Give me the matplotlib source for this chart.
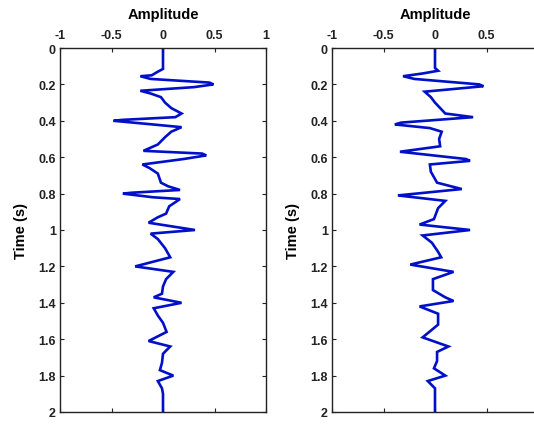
import matplotlib
matplotlib.use("Agg")
import matplotlib.pyplot as plt

# Left trace: time (s) and amplitude
t_left = [0.0, 0.115, 0.13, 0.15, 0.155, 0.17, 0.19, 0.2, 0.215, 0.235, 0.25, 0.27, 0.3, 0.33,
          0.36, 0.38, 0.395, 0.40, 0.42, 0.435, 0.46, 0.49, 0.53, 0.565, 0.58, 0.59, 0.61, 0.64, 0.66,
          0.69, 0.74, 0.76, 0.78, 0.795, 0.80, 0.82, 0.83, 0.87, 0.91, 0.93, 0.96, 1.0, 1.02,
          1.05, 1.1, 1.15, 1.2, 1.23, 1.27, 1.31, 1.35, 1.37, 1.40, 1.43, 1.47, 1.51,
          1.56, 1.61, 1.64, 1.68, 1.73, 1.77, 1.80, 1.83, 1.87, 1.9, 2.0]
a_left = [0.0, 0.0, -0.05, -0.11, -0.22, -0.12, 0.45, 0.49, 0.3, -0.22, -0.12, -0.02, 0.02, 0.08,
          0.18, 0.12, -0.4, -0.48, -0.1, 0.18, 0.08, 0.02, -0.05, -0.19, 0.38, 0.42, 0.2, -0.2, -0.13,
          -0.05, -0.02, 0.05, 0.165, -0.3, -0.39, -0.1, 0.165, 0.06, 0.03, -0.05, -0.14, 0.31, -0.12,
          -0.05, 0.02, 0.07, -0.27, 0.1, 0.03, 0.0, -0.01, -0.09, 0.18, -0.09, -0.05, 0.0,
          0.035, -0.14, 0.07, 0.0, -0.01, -0.03, 0.1, -0.05, -0.01, 0.0, 0.0]

# Right trace: time (s) and amplitude
t_right = [0.0, 0.11, 0.125, 0.14, 0.155, 0.17, 0.2, 0.21, 0.24, 0.27, 0.3, 0.33, 0.36, 0.38,
           0.41, 0.42, 0.44, 0.46, 0.5, 0.54, 0.57, 0.61, 0.62, 0.64, 0.68, 0.74, 0.775, 0.81, 0.84,
           0.88, 0.94, 0.97, 1.0, 1.03, 1.07, 1.12, 1.15, 1.19, 1.23, 1.27, 1.33, 1.37,
           1.39, 1.42, 1.46, 1.52, 1.59, 1.64, 1.67, 1.72, 1.76, 1.80, 1.83, 1.87, 2.0]
a_right = [0.0, 0.0, 0.03, -0.12, -0.31, -0.2, 0.43, 0.47, -0.1, -0.04, 0.0, 0.05, 0.1, 0.37,
           -0.33, -0.39, -0.05, 0.065, 0.04, 0.05, -0.34, 0.3, 0.34, -0.05, -0.04, 0.02, 0.26, -0.36, 0.1,
           0.03, -0.01, -0.15, 0.34, -0.12, -0.03, 0.03, 0.06, -0.24, 0.18, -0.02, -0.02, 0.1,
           0.18, -0.15, 0.03, 0.03, -0.12, 0.13, 0.02, 0.02, -0.01, 0.1, -0.07, 0.0, 0.0]

x_ticks = [-1, -0.5, 0, 0.5, 1]
x_labels = ["-1", "-0.5", "0", "0.5", "1"]
y_ticks = [0, 0.2, 0.4, 0.6, 0.8, 1, 1.2, 1.4, 1.6, 1.8, 2]
y_labels = ["0", "0.2", "0.4", "0.6", "0.8", "1", "1.2", "1.4", "1.6", "1.8", "2"]

plt.rcParams['font.family'] = ['Liberation Sans', 'DejaVu Sans']
plt.rcParams['font.weight'] = 'bold'

fig = plt.figure(figsize=(5.34, 4.27), dpi=100)
W, H = 534, 427
line_color = '#0010c8'

def make_ax(x0_px, t, a, show_last_xlabel=True):
    ax = fig.add_axes([x0_px / W, 1 - 413 / H, 206 / W, (413 - 49) / H])
    ax.plot(a, t, color=line_color, lw=1.9, solid_joinstyle='miter')
    ax.set_xlim(-1, 1)
    ax.set_ylim(2, 0)
    ax.set_xticks(x_ticks)
    ax.set_xticklabels(x_labels, fontsize=9, fontweight='bold')
    ax.set_yticks(y_ticks)
    ax.set_yticklabels(y_labels, fontsize=9, fontweight='bold')
    ax.xaxis.set_ticks_position('both')
    ax.yaxis.set_ticks_position('both')
    ax.xaxis.set_label_position('top')
    ax.tick_params(axis='x', labeltop=True, labelbottom=False, pad=5)
    ax.tick_params(axis='y', pad=3)
    ax.tick_params(direction='in', length=3, width=0.8, colors='#222222')
    if not show_last_xlabel:
        ax.get_xticklabels()[-1].set_visible(False)
    for s in ax.spines.values():
        s.set_linewidth(1.0)
        s.set_color('#222222')
    ax.set_xlabel('Amplitude', fontsize=10.5, fontweight='bold', labelpad=8)
    ax.set_ylabel('Time (s)', fontsize=10.5, fontweight='bold', labelpad=7)
    return ax

make_ax(60, t_left, a_left)
make_ax(332, t_right, a_right, show_last_xlabel=False)

fig.savefig('out.png', dpi=100)
